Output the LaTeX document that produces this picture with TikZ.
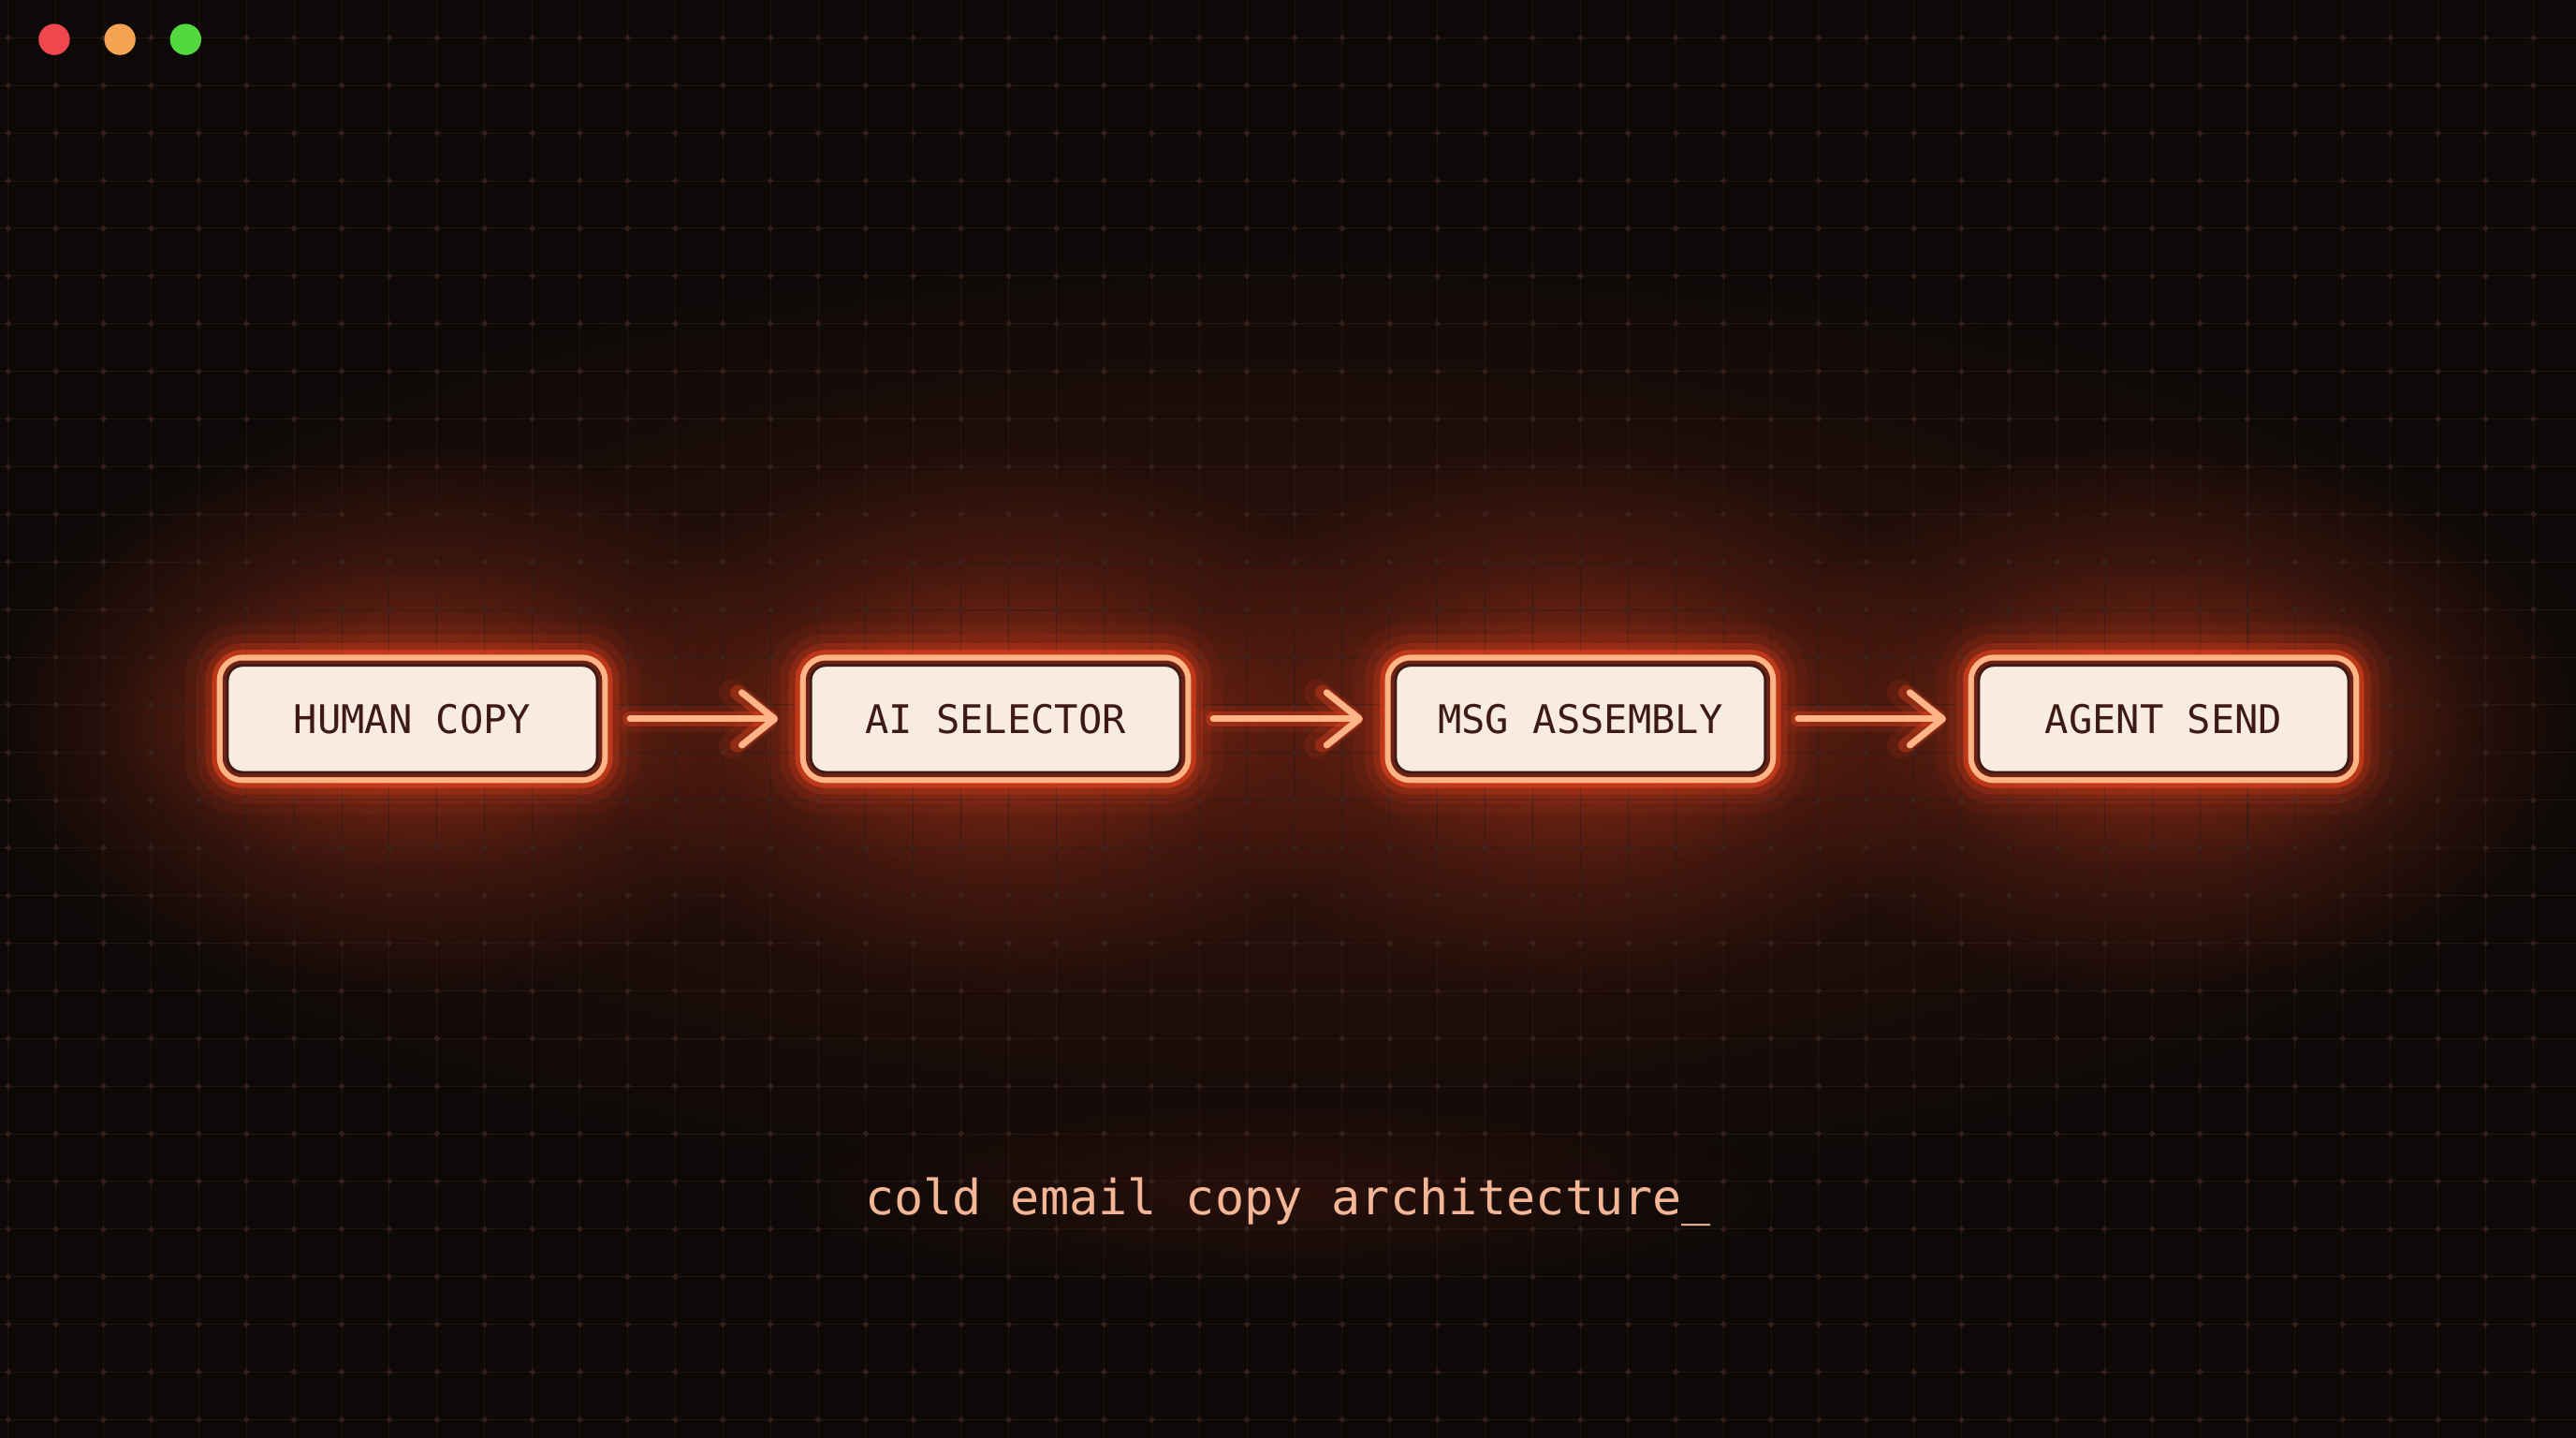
\documentclass[tikz,border=0pt]{standalone}
\usepackage{fontspec}
\newfontfamily\stagefont{DejaVu Sans Mono}
\usetikzlibrary{arrows.meta}
\usetikzlibrary{fadings}

\definecolor{bgblack}{HTML}{0C0908}
\definecolor{gridline}{HTML}{2A1B17}
\definecolor{griddot}{HTML}{3E2620}
\definecolor{bgglow}{HTML}{7A2614}
\definecolor{nearglow}{HTML}{A8361A}
\definecolor{boxglow}{HTML}{FF4A22}
\definecolor{ringorange}{HTML}{FFB486}
\definecolor{bandred}{HTML}{6E2216}
\definecolor{creamfill}{HTML}{F8ECE2}
\definecolor{inkbrown}{HTML}{3D1A12}
\definecolor{arrowcore}{HTML}{FFB487}
\definecolor{captioncol}{HTML}{F5B696}
\definecolor{dotred}{HTML}{F0464E}
\definecolor{dotorange}{HTML}{F5A352}
\definecolor{dotgreen}{HTML}{54D840}

\tikzfading[name=softglow, inner color=transparent!0, outer color=transparent!100]

\begin{document}
\begin{tikzpicture}[x=1pt, y=-1pt,
    stagebox/.style={draw=inkbrown, line width=1.6pt, fill=creamfill,
      rounded corners=9pt, minimum width=225pt, minimum height=65pt,
      inner sep=0pt, outer sep=0pt, text=inkbrown,
      font=\stagefont\fontsize{24}{28}\selectfont,
      preaction={draw=boxglow, line width=52pt, opacity=0.06},
      preaction={draw=boxglow, line width=38pt, opacity=0.1},
      preaction={draw=boxglow, line width=27pt, opacity=0.18},
      preaction={draw=boxglow, line width=19pt, opacity=0.45},
      preaction={draw=ringorange, line width=13pt},
      preaction={draw=bandred, line width=6pt}},
    flowarrow/.style={draw=arrowcore, line width=4pt, line cap=round,
      shorten <=20pt, shorten >=20pt,
      -{Straight Barb[length=20pt, width=32pt, line cap=round, line join=round]}},
    captiontext/.style={text=captioncol, inner sep=0pt,
      font=\stagefont\fontsize{29.5}{34}\selectfont}]

      % background and glow
      \fill[bgblack] (0,0) rectangle (1568,875);
      \useasboundingbox (0,0) rectangle (1568,875);
      \fill[bgglow, opacity=0.4, path fading=softglow] (784,440) ellipse (860 and 300);
      \foreach \cx in {251,606,962,1317} {
        \fill[bgglow, opacity=0.8, path fading=softglow] (\cx,437.5) ellipse (250 and 170);
        \fill[nearglow, opacity=0.45, path fading=softglow] (\cx,437.5) ellipse (190 and 95);
      }
      \fill[bgglow, opacity=0.25, path fading=softglow] (784,728) ellipse (330 and 60);

      % grid
      \foreach \gx in {5,34,...,1568}
        \draw[gridline, line width=0.6pt, opacity=0.7] (\gx,0) -- (\gx,875);
      \foreach \gy in {23,52,...,875}
        \draw[gridline, line width=0.6pt, opacity=0.7] (0,\gy) -- (1568,\gy);
      \foreach \gx in {5,34,...,1568}
        \foreach \gy in {23,52,...,875}
          \fill[griddot, opacity=0.7] (\gx,\gy) +(-2,0) -- +(0,-2) -- +(2,0) -- +(0,2) -- cycle;

      % window dots
      \fill[dotred] (33,24) circle (9.5);
      \fill[dotorange] (73,24) circle (9.5);
      \fill[dotgreen] (113,24) circle (9.5);

      % pipeline
      \draw (251,437.5) node[stagebox] (hc) {HUMAN COPY};
      \draw (606,437.5) node[stagebox] (ais) {AI SELECTOR};
      \draw (962,437.5) node[stagebox] (msg) {MSG ASSEMBLY};
      \draw (1317,437.5) node[stagebox] (agt) {AGENT SEND};

      \foreach \a/\b in {hc/ais, ais/msg, msg/agt} {
        \draw[flowarrow, draw=boxglow, line width=16pt, opacity=0.1] (\a) -- (\b);
        \draw[flowarrow, draw=boxglow, line width=9pt, opacity=0.3] (\a) -- (\b);
        \draw[flowarrow] (\a) -- (\b);
      }

      \draw (784,739) node[captiontext, anchor=base] (cap) {cold email copy architecture\_};
    \end{tikzpicture}
\end{document}
